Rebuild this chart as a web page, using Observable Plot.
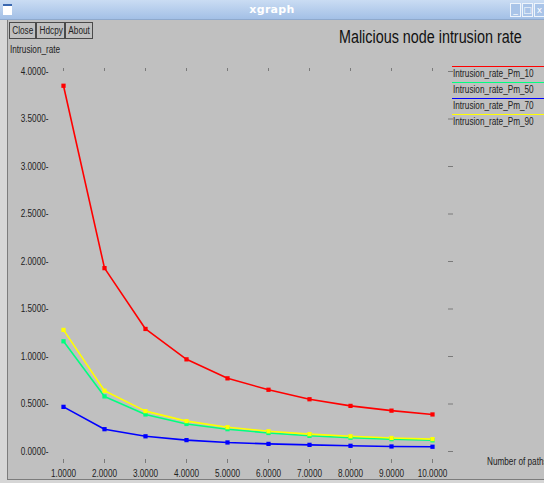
<!DOCTYPE html>
<html>
<head>
<meta charset="utf-8">
<script src="https://cdn.jsdelivr.net/npm/d3@7"></script>
<script src="https://cdn.jsdelivr.net/npm/@observablehq/plot@0.6"></script>
<style>
  html, body { margin: 0; padding: 0; background: #ffffff; }
  #win { position: relative; width: 544px; height: 483px; overflow: hidden; background: #d6d6d6;
         font-family: "Liberation Sans", Arial, sans-serif; }
  #titlebar { position: absolute; left: 0; top: 0; width: 544px; height: 20px;
              background: linear-gradient(#cadcf3, #a3c0e6); border-bottom: 1px solid #8fa9cc; box-sizing: border-box; }
  #titlebar .t { position: absolute; left: 0; width: 544px; top: 3px; text-align: center; color: #fff;
                 font: bold 11px "DejaVu Sans", sans-serif; letter-spacing: 0.3px; }
  #icon { position: absolute; left: 3px; top: 4px; width: 9px; height: 9px; background: #fff; border-top: 2px solid #3a68b0; }
  .wb { position: absolute; top: 3px; width: 9px; height: 12px; border: 1px solid #eef4fb; background: #a9c4e8;
        color: #fff; font: 9px "DejaVu Sans", sans-serif; text-align: center; line-height: 12px; }
  #content { position: absolute; left: 7px; top: 20px; width: 540px; height: 460px; background: #c0c0c0;
             border-left: 1px solid #7c7c7c; border-bottom: 1px solid #7c7c7c; box-sizing: border-box; }
  .n { display: inline-block; transform: scaleX(0.82); transform-origin: left center; white-space: nowrap; }
  .btn { position: absolute; top: 22px; height: 17px; border: 1px solid #4a4a4a; box-sizing: border-box;
         font-size: 10px; line-height: 15px; text-align: center; color: #222; overflow: hidden; }
  .btn .n { transform-origin: center center; }
  .lbl { position: absolute; color: #222; font-size: 10px; white-space: nowrap; }
  #title { position: absolute; left: 339px; top: 27px; font-size: 17.5px; color: #111; white-space: nowrap; }
  .leg { position: absolute; left: 452px; width: 100px; height: 16px; border-top: 1px solid; font-size: 10px;
         color: #222; line-height: 13px; white-space: nowrap; box-sizing: border-box; padding-left: 1px; }
  #plot { position: absolute; left: 0; top: 20px; }
</style>
</head>
<body>
<div id="win">
  <div id="titlebar"><div id="icon"></div><div class="t">xgraph</div>
    <div class="wb" style="left:510px">_</div><div class="wb" style="left:522px">□</div><div class="wb" style="left:534px">x</div>
  </div>
  <div id="content"></div>
  <div class="btn" style="left:9px;width:27px"><span class="n">Close</span></div>
  <div class="btn" style="left:36px;width:29px"><span class="n">Hdcpy</span></div>
  <div class="btn" style="left:65px;width:28px"><span class="n">About</span></div>
  <div class="lbl" style="left:10px;top:44px"><span class="n">Intrusion_rate</span></div>
  <div id="title"><span class="n">Malicious node intrusion rate</span></div>
  <div id="legend"></div>
  <div class="lbl" style="left:487px;top:456px"><span class="n">Number of paths</span></div>
  <div id="plot"></div>
</div>
<script>
// ---- data ----
const paths = [1, 2, 3, 4, 5, 6, 7, 8, 9, 10];
const pm10 = [3.85, 1.93, 1.29, 0.97, 0.77, 0.65, 0.55, 0.48, 0.43, 0.39];
const pm50 = [1.16, 0.58, 0.39, 0.29, 0.235, 0.195, 0.165, 0.145, 0.13, 0.118];
const pm70 = [0.47, 0.235, 0.16, 0.12, 0.095, 0.08, 0.07, 0.06, 0.053, 0.05];
const pm90 = [1.28, 0.64, 0.425, 0.32, 0.256, 0.213, 0.183, 0.16, 0.142, 0.13];
const seriesNames = ["Intrusion_rate_Pm_10", "Intrusion_rate_Pm_50", "Intrusion_rate_Pm_70", "Intrusion_rate_Pm_90"];
const seriesColors = ["#ff0000", "#00ff7f", "#0000ff", "#ffff00"];
const xTicks = [1, 2, 3, 4, 5, 6, 7, 8, 9, 10];
const yTicks = [0, 0.5, 1, 1.5, 2, 2.5, 3, 3.5, 4];

const seriesValues = [pm10, pm50, pm70, pm90];
const rows = [];
seriesNames.forEach((name, si) => {
  paths.forEach((p, i) => rows.push({ series: name, x: p, y: seriesValues[si][i] }));
});

// legend (html)
const legend = document.getElementById("legend");
seriesNames.forEach((n, i) => {
  const d = document.createElement("div");
  d.className = "leg";
  d.style.top = (66 + i * 16) + "px";
  d.style.borderTopColor = seriesColors[i];
  const s = document.createElement("span");
  s.className = "n";
  s.textContent = n;
  d.appendChild(s);
  legend.appendChild(d);
});

const chart = Plot.plot({
  width: 544,
  height: 460,
  marginLeft: 63,
  marginRight: 112,
  marginTop: 51,
  marginBottom: 29,
  style: { background: "transparent", fontFamily: "'Liberation Sans', Arial, sans-serif", fontSize: "10px", color: "#222" },
  x: { domain: [1, 10] },
  y: { domain: [0, 4] },
  color: { domain: seriesNames, range: seriesColors },
  marks: [
    Plot.axisY({ ticks: yTicks, anchor: "left", tickSize: 0, tickPadding: 15, tickFormat: d => d.toFixed(4) + "-", label: null, fill: "#222" }),
    Plot.axisY({ ticks: yTicks, anchor: "right", tickSize: 5, dx: 15, tickFormat: () => "", label: null, stroke: "#7a7a7a" }),
    Plot.axisX({ ticks: xTicks, anchor: "top", tickSize: 3, tickFormat: () => "", label: null, stroke: "#7a7a7a", dy: -1 }),
    Plot.axisX({ ticks: xTicks, anchor: "bottom", tickSize: 4, tickFormat: () => "", label: null, stroke: "#7a7a7a", dy: 8 }),
    Plot.axisX({ ticks: xTicks, anchor: "bottom", tickSize: 0, tickPadding: 18, tickFormat: d => d.toFixed(4), label: null, fill: "#222" }),
    Plot.line(rows, { x: "x", y: "y", z: "series", stroke: "series", strokeWidth: 1.6 }),
    Plot.dot(rows, { x: "x", y: "y", fill: "series", symbol: "square", r: 2.4, stroke: null })
  ]
});
// narrow (condensed) look for the axis texts, scaled about each text's own anchor
chart.querySelectorAll("text").forEach(t => {
  const tr = t.getAttribute("transform") || "";
  t.setAttribute("transform", tr + " scale(0.82,1)");
});
document.getElementById("plot").appendChild(chart);
</script>
</body>
</html>
